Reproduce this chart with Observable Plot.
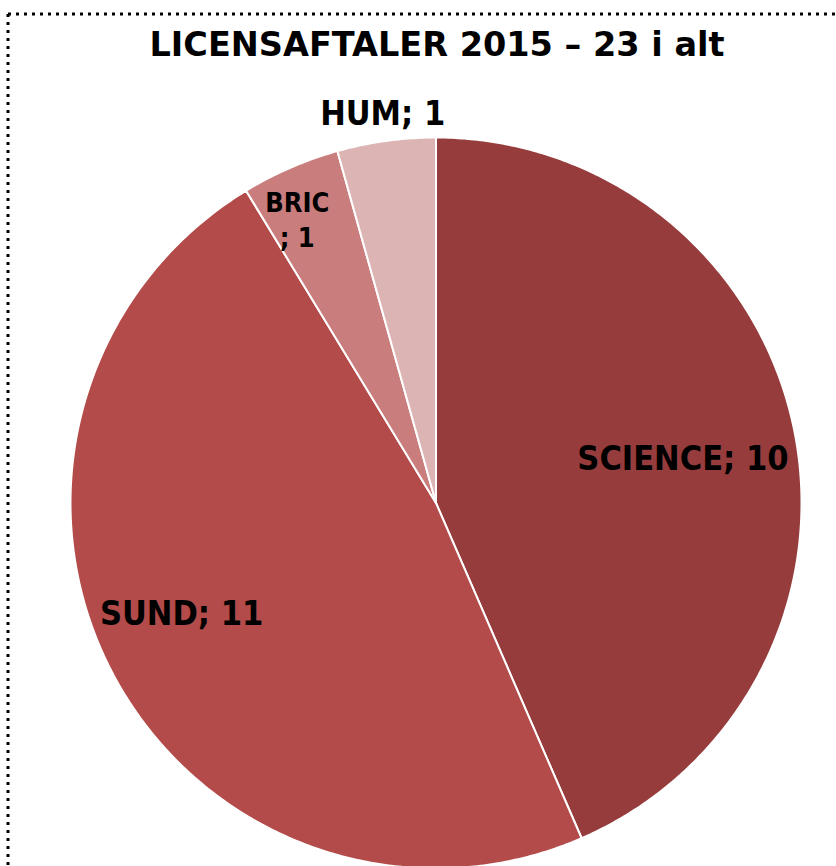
<!DOCTYPE html>
<html>
<head>
<meta charset="utf-8">
<script src="https://cdn.jsdelivr.net/npm/d3@7"></script>
<script src="https://cdn.jsdelivr.net/npm/@observablehq/plot@0.6"></script>
<style>
  html, body { margin: 0; padding: 0; background: #fff; }
  #wrap { position: relative; width: 836px; height: 866px; overflow: hidden; }
  #title { height: 80px; line-height: 90px; padding-left: 38px; text-align: center;
           font-family: "DejaVu Sans", sans-serif; font-weight: bold; font-size: 33.5px; color: #000; white-space: nowrap; }
  #border { position: absolute; left: 0; top: 0; pointer-events: none; }
  #chart svg { overflow: visible; display: block; }
</style>
</head>
<body>
<div id="wrap">
  <div id="title"></div>
  <div id="chart"></div>
  <svg id="border" width="836" height="866">
    <line x1="8" y1="14" x2="836" y2="14" stroke="#000" stroke-width="3" stroke-dasharray="3 5"/>
    <line x1="8" y1="14" x2="8" y2="866" stroke="#000" stroke-width="3" stroke-dasharray="3 5"/>
  </svg>
</div>
<script>
const title = "LICENSAFTALER 2015 – 23 i alt";
const categories = ["SCIENCE", "SUND", "BRIC", "HUM"];
const values = [10, 11, 1, 1];
const labelTexts = ["SCIENCE; 10", "SUND; 11", "BRIC\n; 1", "HUM; 1"];

// styling (kept separate from data)
const colors = ["#963C3C", "#B24B49", "#C97D7C", "#DDB4B4"];
const labelStyle = {
  SCIENCE: {rho: 0.69, dx: 0, dy: 4, size: 34},
  SUND: {rho: 0.784, dx: 0, dy: -24, size: 34},
  BRIC: {rho: 0.85, dx: -15, dy: 0, size: 27},
  HUM: {rho: 1.072, dx: 0, dy: -4, size: 34}
};

document.getElementById("title").textContent = title;

const arcs = d3.pie().sort(null).value((d, i) => values[i])(categories);

// slice outlines as closed polygons in unit-circle coordinates
const pts = [];
arcs.forEach((a) => {
  const cat = a.data;
  pts.push({cat, x: 0, y: 0});
  const n = Math.max(2, Math.ceil((a.endAngle - a.startAngle) / (Math.PI / 360)));
  for (let k = 0; k <= n; k++) {
    const t = a.startAngle + (a.endAngle - a.startAngle) * k / n;
    pts.push({cat, x: Math.sin(t), y: Math.cos(t)});
  }
  pts.push({cat, x: 0, y: 0});
});

const labels = arcs.map((a, i) => {
  const s = labelStyle[a.data];
  const m = (a.startAngle + a.endAngle) / 2;
  return {cat: a.data, text: labelTexts[i], x: s.rho * Math.sin(m), y: s.rho * Math.cos(m)};
});

const textMark = (cat) => {
  const s = labelStyle[cat];
  return Plot.text(labels.filter(d => d.cat === cat), {
    x: "x", y: "y", text: "text", dx: s.dx, dy: s.dy,
    fontSize: s.size, fontWeight: "bold", fill: "#000",
    fontFamily: "DejaVu Sans Condensed, DejaVu Sans, sans-serif",
    lineHeight: 1.3, textAnchor: "middle", lineAnchor: "middle"
  });
};

const plot = Plot.plot({
  width: 836,
  height: 786,
  margin: 0,
  x: {domain: [-1, 1], range: [70, 801], axis: null},
  y: {domain: [-1, 1], range: [788, 57], axis: null},
  color: {domain: categories, range: colors},
  style: {background: "transparent", overflow: "visible"},
  marks: [
    Plot.line(pts, {x: "x", y: "y", z: "cat", fill: "cat", stroke: "#fff", strokeWidth: 2, curve: "linear"}),
    ...categories.map(textMark)
  ]
});
document.getElementById("chart").appendChild(plot);
</script>
</body>
</html>
